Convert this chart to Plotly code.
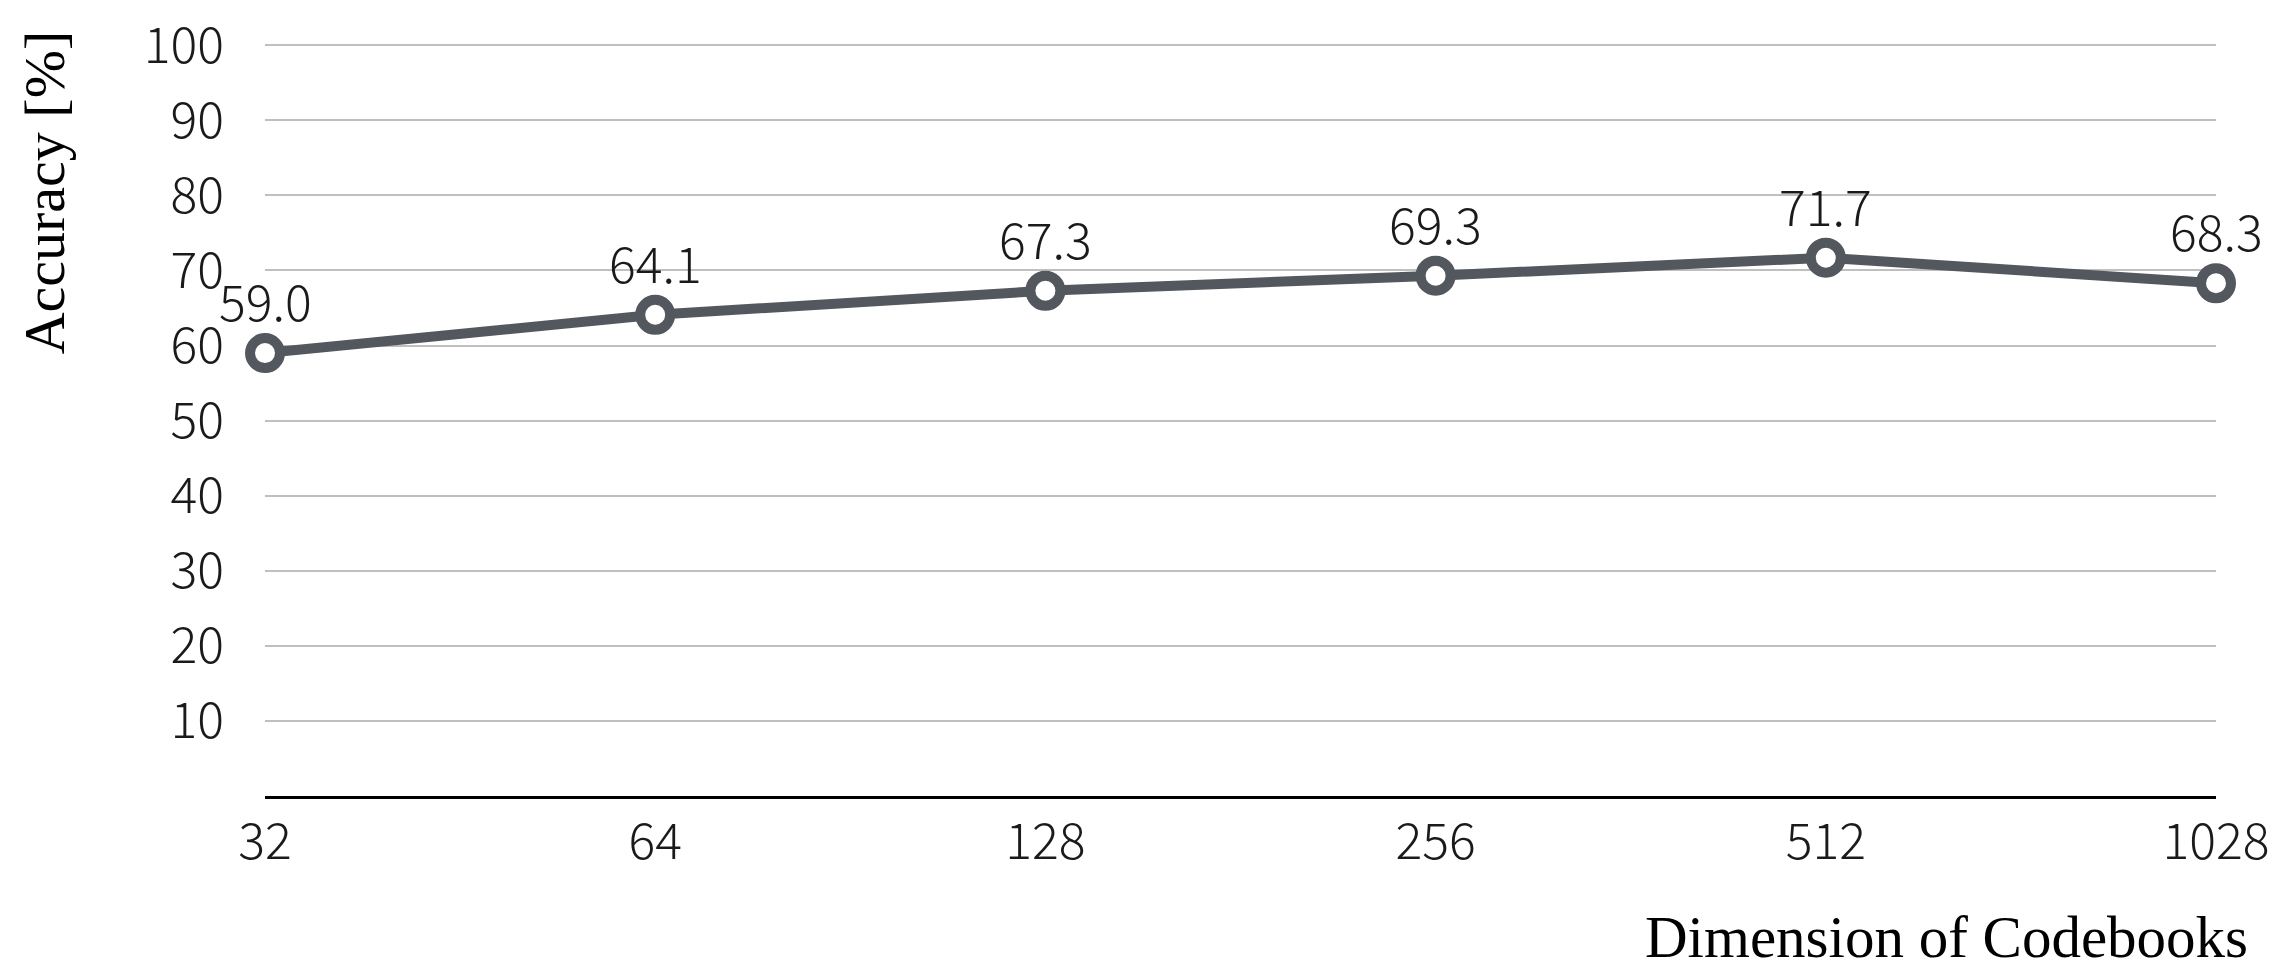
import plotly.graph_objects as go

# codebook sizes (x categories) and accuracy values
dimensions = ["32", "64", "128", "256", "512", "1028"]
accuracy = [59.0, 64.1, 67.3, 69.3, 71.7, 68.3]
y_ticks = [10, 20, 30, 40, 50, 60, 70, 80, 90, 100]

LINE_COLOR = "#53575e"
SANS = "Noto Sans CJK JP, Noto Sans, sans-serif"
SERIF = "Liberation Serif, Times New Roman, serif"
label_font = dict(family=SANS, size=50, color="#1a1a1a", weight=300)

fig = go.Figure()
fig.add_trace(go.Scatter(
    x=dimensions,
    y=accuracy,
    mode="lines+markers",
    line=dict(color=LINE_COLOR, width=10),
    marker=dict(size=30, color="white", line=dict(color=LINE_COLOR, width=10)),
    cliponaxis=False,
    showlegend=False,
))

# value labels above each point (x given as category index, since
# numeric-looking strings would be read as indices anyway)
annotations = [
    dict(x=i, y=v, text=f"{v:.1f}", showarrow=False,
         xanchor="center", yanchor="middle", yshift=54, font=label_font)
    for i, v in enumerate(accuracy)
]
annotations += [
    dict(
        text="Dimension of Codebooks",
        xref="paper", yref="paper",
        x=1.0174, y=-0.1877,
        xanchor="right", yanchor="middle",
        showarrow=False,
        font=dict(family=SERIF, size=59, color="black"),
    ),
    dict(
        text="Accuracy [%]",
        xref="paper", yref="paper",
        x=-0.1133, y=0.8016,
        xanchor="center", yanchor="middle",
        textangle=-90,
        showarrow=False,
        font=dict(family=SERIF, size=58, color="black"),
    ),
]

fig.update_layout(
    width=2288,
    height=975,
    paper_bgcolor="white",
    plot_bgcolor="white",
    margin=dict(l=257, r=80, t=35, b=187),
    xaxis=dict(
        type="category",
        range=[0, 5],
        automargin=False,
        showgrid=False,
        showline=True,
        linecolor="black",
        linewidth=3,
        ticks="",
        tickfont=label_font,
        ticklabelstandoff=0,
        ticklabeloverflow="allow",
    ),
    yaxis=dict(
        range=[0, 100.3],
        tickvals=y_ticks,
        automargin=False,
        showgrid=True,
        gridcolor="#bfbfbf",
        gridwidth=2,
        zeroline=False,
        showline=False,
        ticks="",
        tickfont=label_font,
        ticklabelstandoff=40,
        ticklabeloverflow="allow",
    ),
    annotations=annotations,
)

fig.write_html("out.html")
